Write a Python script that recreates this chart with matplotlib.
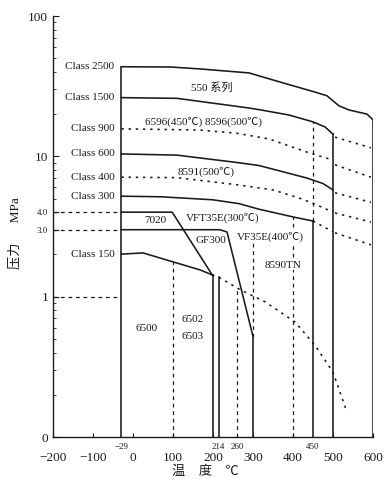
import matplotlib
matplotlib.use('Agg')
import matplotlib.pyplot as plt
from matplotlib.ticker import FixedLocator, LogLocator, NullFormatter

plt.rcParams['font.family'] = ['Liberation Serif', 'Noto Sans CJK SC', 'DejaVu Sans']

# ---- data (temperature degC, pressure MPa) ----
T_2500 = [-29, 95, 170, 290, 350, 455, 485, 515, 540, 585, 600]
P_2500 = [43.5, 43.3, 41.9, 39.3, 35.0, 28.7, 27.0, 22.9, 21.4, 20.0, 18.2]

T_1500 = [-29, 110, 290, 320, 390, 450, 480, 500]
P_1500 = [26.2, 25.9, 22.1, 21.4, 19.7, 17.6, 16.2, 14.4]

T_900 = [-29, 165, 260, 340, 440, 500]
P_900 = [15.7, 15.4, 14.6, 13.3, 10.6, 9.4]

T_600 = [-29, 110, 265, 315, 350, 435, 475, 500]
P_600 = [10.4, 10.2, 9.0, 8.6, 8.1, 7.0, 6.4, 5.76]

T_400 = [-29, 110, 265, 350, 415, 460, 500]
P_400 = [7.1, 7.05, 6.25, 5.76, 5.05, 4.5, 4.0]

T_300 = [-29, 70, 200, 265, 315, 400, 450]
P_300 = [5.2, 5.15, 4.9, 4.6, 4.2, 3.7, 3.46]
T_300_DOT = [450, 500]
P_300_DOT = [3.46, 2.9]

# dotted continuations between 500 and 600 degC
EXT_T = [505, 595]
EXT_P = {
    '1500': [13.7, 11.5],
    '900': [8.7, 7.1],
    '600': [5.5, 4.7],
    '400': [3.95, 3.4],
    '300': [2.85, 2.34],
}

T_150 = [-29, 25, 100, 168, 198]
P_150 = [2.01, 2.05, 1.77, 1.55, 1.43]
T_150_DOT = [198, 218, 268, 330, 405, 455, 500, 535]
P_150_DOT = [1.43, 1.36, 1.12, 0.92, 0.66, 0.45, 0.29, 0.15]

T_7020 = [-29, 98, 198]
P_7020 = [4.0, 4.0, 1.43]

T_GF300 = [-29, 217, 235, 300, 300]
P_GF300 = [3.0, 3.0, 2.89, 0.52, 0.1]

# vertical limits: (temperature, top pressure, bottom pressure)
SOLID_V = [(-29, 43.5, 0.1), (200, 1.43, 0.1), (214, 1.37, 0.1),
           (450, 3.46, 0.1), (500, 14.4, 0.1), (600, 18.2, 0.1)]
DASH_V = [(100, 1.77, 0.1), (260, 1.15, 0.1), (300, 2.4, 0.52),
          (400, 3.7, 0.1), (450, 17.6, 3.46)]
REF_P = [4.0, 3.0, 1.0]

CLASS_NAMES = ['Class 2500', 'Class 1500', 'Class 900', 'Class 600',
               'Class 400', 'Class 300', 'Class 150']
CLASS_P = [43.5, 26.2, 15.7, 10.4, 7.1, 5.2, 2.01]

X_TICKS = [-200, -100, 0, 100, 200, 300, 400, 500, 600]
SMALL_X = [(-29, '\u221229'), (214, '214'), (260, '260'), (450, '450')]

# ---- figure ----
K = '#1a1a1a'
fig = plt.figure(figsize=(3.85, 4.79), dpi=100)
ax = fig.add_axes([53 / 385, 42 / 479, 320 / 385, 421 / 479])
ax.set_yscale('log')
ax.set_xlim(-200, 600)
ax.set_ylim(0.1, 100)

solid = dict(color=K, lw=1.15, solid_joinstyle='round')
dotted = dict(color=K, lw=1.15, ls=(0, (1.5, 3)))
dashed = dict(color=K, lw=0.9, ls=(0, (3, 3)))

ax.plot(T_2500, P_2500, **solid)
ax.plot(T_1500, P_1500, **solid)
ax.plot(T_900, P_900, **dotted)
ax.plot(T_600, P_600, **solid)
ax.plot(T_400, P_400, **dotted)
ax.plot(T_300, P_300, **solid)
ax.plot(T_300_DOT, P_300_DOT, **dotted)
for k, p in EXT_P.items():
    ax.plot(EXT_T, p, **dotted)
ax.plot(T_150, P_150, **solid)
ax.plot(T_150_DOT, P_150_DOT, **dotted)
ax.plot(T_7020, P_7020, **solid)
ax.plot(T_GF300, P_GF300, **solid)

for t, top, bot in SOLID_V:
    ax.plot([t, t], [bot, top], **solid)
for t, top, bot in DASH_V:
    ax.plot([t, t], [bot, top], **dashed)
for p in REF_P:
    ax.plot([-200, -29], [p, p], **dashed)

# class labels
for name, p in zip(CLASS_NAMES, CLASS_P):
    ax.text(-46, p, name, ha='right', va='center', fontsize=8, color=K)

lab = dict(fontsize=8, color=K, va='center')
wb = dict(facecolor='white', edgecolor='none', pad=0.3)
ax.text(197, 30.7, '550 系列', ha='center', **lab)
ax.text(30, 17.6, '6596(450\u2103) 8596(500\u2103)', ha='left', **lab)
ax.text(112, 7.73, '8591(500\u2103)', ha='left', **lab)
ax.text(55, 3.51, '7020', ha='center', **lab)
ax.text(132, 3.64, 'VFT35E(300\u2103)', ha='left', **lab)
ax.text(155, 2.53, 'GF300', ha='left', bbox=wb, **lab)
ax.text(260, 2.66, 'VF35E(400\u2103)', ha='left', bbox=wb, **lab)
ax.text(330, 1.68, '8590TN', ha='left', bbox=wb, **lab)
ax.text(35, 0.598, '6500', ha='center', **lab)
ax.text(122, 0.682, '6502', ha='left', **lab)
ax.text(122, 0.516, '6503', ha='left', **lab)

# axes styling
for s in ('top', 'right'):
    ax.spines[s].set_visible(False)
for s in ('left', 'bottom'):
    ax.spines[s].set_linewidth(1.0)
    ax.spines[s].set_color(K)

ax.set_xticks(X_TICKS)
ax.set_xticklabels([str(v).replace('-', '\u2212') for v in X_TICKS])
ax.tick_params(axis='x', direction='in', length=3, pad=11, labelsize=9.5,
               colors=K)

ax.yaxis.set_major_locator(FixedLocator([0.1, 1, 3, 4, 10, 100]))
ax.set_yticklabels(['0', '1', '3.0', '4.0', '10', '100'])
ax.yaxis.set_minor_locator(LogLocator(base=10, subs=range(2, 10)))
ax.yaxis.set_minor_formatter(NullFormatter())
ax.tick_params(axis='y', which='major', direction='in', length=4,
               labelsize=9.5, colors=K)
ax.tick_params(axis='y', which='minor', direction='in', length=2.5, colors=K)
for t in ax.get_yticklabels():
    if t.get_text() in ('3.0', '4.0'):
        t.set_fontsize(6.5)

for t, s in SMALL_X:
    ax.annotate(s, xy=(t, 0), xycoords=('data', 'axes fraction'),
                xytext=(0, -7), textcoords='offset points',
                ha='center', va='center', fontsize=6.5, color=K)

fig.text(205 / 385, 1 - 472 / 479, '温    度    \u2103', ha='center',
         va='center', fontsize=9.5, color=K)
fig.text(15 / 385, 1 - 233 / 479, '压力      MPa', ha='center', va='center',
         rotation=90, fontsize=9.5, color=K)

fig.savefig('out.png', dpi=100)
